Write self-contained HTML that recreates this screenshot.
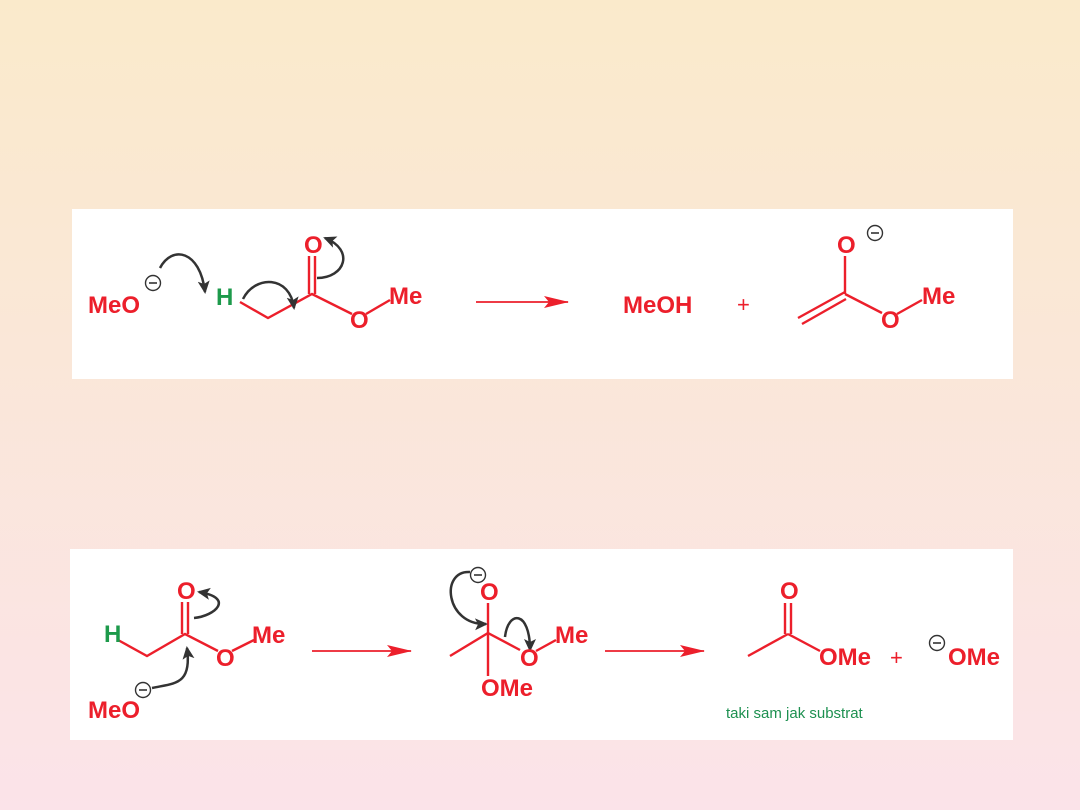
<!DOCTYPE html>
<html><head><meta charset="utf-8"><style>
html,body{margin:0;padding:0;width:1080px;height:810px;overflow:hidden;background:linear-gradient(#faeacb,#fbe3e9);}
svg{position:absolute;left:0;top:0}
.t{font-family:"Liberation Sans",sans-serif;font-weight:bold;font-size:24px;fill:#ec1f2b}
.g{fill:#1d9a4b}
.p{font-family:"Liberation Sans",sans-serif;font-size:22px;fill:#ec1f2b}
</style></head><body>
<svg width="1080" height="810" viewBox="0 0 1080 810">
<defs>
<marker id="ka" markerWidth="14" markerHeight="14" refX="11" refY="7" orient="auto" markerUnits="userSpaceOnUse"><path d="M0,1 L13,7 L0,13 L3,7Z" fill="#333"/></marker>
<marker id="ra" markerWidth="26" markerHeight="14" refX="24" refY="7" orient="auto" markerUnits="userSpaceOnUse"><path d="M0,1 L25,7 L0,13 L5,7Z" fill="#ec1f2b"/></marker>
</defs>
<rect x="72" y="209" width="941" height="170" fill="#fff"/>
<rect x="70" y="549" width="943" height="191" fill="#fff"/>
<g stroke="#ec1f2b" stroke-width="2.4" fill="none">
<polyline points="240,302 268,318 312,294 352,314"/>
<line x1="309" y1="294" x2="309" y2="256"/><line x1="315" y1="294" x2="315" y2="256"/>
<line x1="366" y1="314" x2="390" y2="300"/>
<line x1="476" y1="302" x2="568" y2="302" stroke-width="1.8" marker-end="url(#ra)"/>
<line x1="845" y1="294" x2="845" y2="256"/>
<line x1="798" y1="318" x2="845" y2="292"/><line x1="802" y1="324" x2="846" y2="299"/>
<line x1="845" y1="294" x2="882" y2="313"/>
<line x1="897" y1="314" x2="922" y2="300"/>
<polyline points="118,640 147,656 185,634 218,651"/>
<line x1="182" y1="634" x2="182" y2="602"/><line x1="188" y1="634" x2="188" y2="602"/>
<line x1="232" y1="651" x2="254" y2="640"/>
<line x1="312" y1="651" x2="411" y2="651" stroke-width="1.8" marker-end="url(#ra)"/>
<line x1="488" y1="603" x2="488" y2="676"/>
<line x1="450" y1="656" x2="488" y2="633"/>
<line x1="488" y1="633" x2="520" y2="650"/>
<line x1="536" y1="651" x2="556" y2="640"/>
<line x1="605" y1="651" x2="704" y2="651" stroke-width="1.8" marker-end="url(#ra)"/>
<line x1="785" y1="634" x2="785" y2="603"/><line x1="791" y1="634" x2="791" y2="603"/>
<line x1="748" y1="656" x2="788" y2="634"/>
<line x1="788" y1="634" x2="820" y2="651"/>
</g>
<g stroke="#333" stroke-width="2.5" fill="none" marker-end="url(#ka)">
<path d="M160,268 C172,245 200,250 205,292"/>
<path d="M243,299 C255,275 290,275 294,308"/>
<path d="M317,278 C345,278 355,250 325,238"/>
<path d="M194,618 C215,616 235,598 199,592"/>
<path d="M152,688 C175,683 192,685 187,648"/>
<path d="M470,572 C440,570 445,625 486,624"/>
<path d="M505,637 C508,610 530,610 530,650"/>
</g>
<g stroke="#333" stroke-width="1.4" fill="#fff">
<circle cx="153" cy="283" r="7.5"/><circle cx="875" cy="233" r="7.5"/>
<circle cx="143" cy="690" r="7.5"/><circle cx="478" cy="575" r="7.5"/>
<circle cx="937" cy="643" r="7.5"/>
</g>
<g stroke="#333" stroke-width="1.6">
<line x1="149" y1="283" x2="157" y2="283"/><line x1="871" y1="233" x2="879" y2="233"/>
<line x1="139" y1="690" x2="147" y2="690"/><line x1="474" y1="575" x2="482" y2="575"/>
<line x1="933" y1="643" x2="941" y2="643"/>
</g>
<text class="t" x="88" y="313">MeO</text>
<text class="t g" x="216" y="305">H</text>
<text class="t" x="304" y="253">O</text>
<text class="t" x="350" y="328">O</text>
<text class="t" x="389" y="304">Me</text>
<text class="t" x="623" y="313">MeOH</text>
<text class="p" x="737" y="312">+</text>
<text class="t" x="837" y="253">O</text>
<text class="t" x="881" y="328">O</text>
<text class="t" x="922" y="304">Me</text>
<text class="t g" x="104" y="642">H</text>
<text class="t" x="177" y="599">O</text>
<text class="t" x="216" y="666">O</text>
<text class="t" x="252" y="643">Me</text>
<text class="t" x="88" y="718">MeO</text>
<text class="t" x="480" y="600">O</text>
<text class="t" x="520" y="666">O</text>
<text class="t" x="555" y="643">Me</text>
<text class="t" x="481" y="696">OMe</text>
<text class="t" x="780" y="599">O</text>
<text class="t" x="819" y="665">OMe</text>
<text class="p" x="890" y="665">+</text>
<text class="t" x="948" y="665">OMe</text>
<text x="726" y="718" style="font-family:'Liberation Sans',sans-serif;font-size:15px;fill:#1d9050">taki sam jak substrat</text>
</svg>
</body></html>
